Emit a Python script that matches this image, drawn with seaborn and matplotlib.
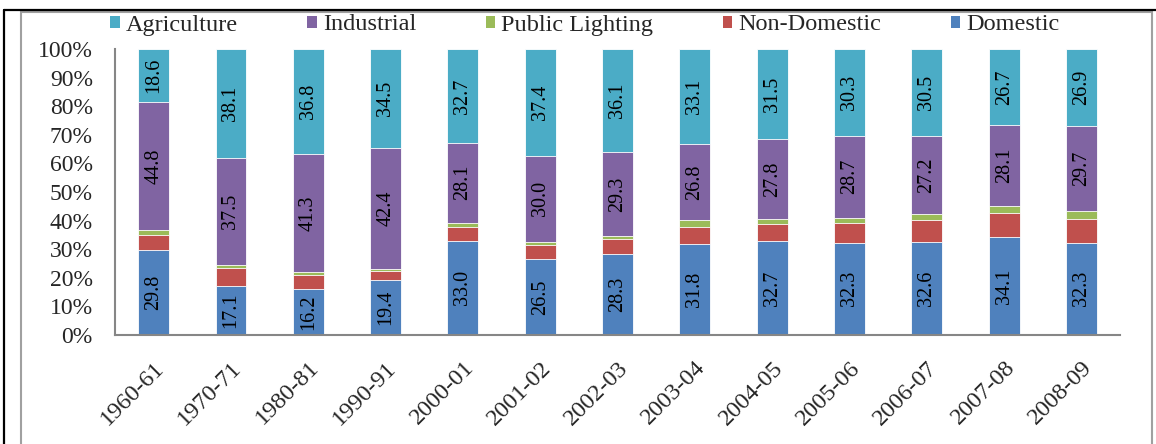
import numpy as np
import pandas as pd
import matplotlib
matplotlib.use("Agg")
import matplotlib.pyplot as plt
from matplotlib.patches import Rectangle, Patch
from matplotlib.lines import Line2D
import seaborn as sns

years = ["1960-61", "1970-71", "1980-81", "1990-91", "2000-01", "2001-02", "2002-03",
         "2003-04", "2004-05", "2005-06", "2006-07", "2007-08", "2008-09"]
domestic = [29.8, 17.1, 16.2, 19.4, 33.0, 26.5, 28.3, 31.8, 32.7, 32.3, 32.6, 34.1, 32.3]
non_domestic = [5.2, 6.5, 4.9, 3.1, 4.6, 5.1, 5.3, 5.8, 6.0, 6.7, 7.5, 8.5, 8.2]
public_lighting = [1.6, 0.8, 0.8, 0.6, 1.6, 1.0, 1.0, 2.5, 2.0, 2.0, 2.2, 2.6, 2.9]
industrial = [44.8, 37.5, 41.3, 42.4, 28.1, 30.0, 29.3, 26.8, 27.8, 28.7, 27.2, 28.1, 29.7]
agriculture = [18.6, 38.1, 36.8, 34.5, 32.7, 37.4, 36.1, 33.1, 31.5, 30.3, 30.5, 26.7, 26.9]

series = ["Domestic", "Non-Domestic", "Public Lighting", "Industrial", "Agriculture"]
colors = ["#4F81BD", "#C0504D", "#9BBB59", "#8064A2", "#4BACC6"]
labelled = ["Domestic", "Industrial", "Agriculture"]

df = pd.DataFrame({"Year": years, "Domestic": domestic, "Non-Domestic": non_domestic,
                   "Public Lighting": public_lighting, "Industrial": industrial,
                   "Agriculture": agriculture})
totals = df[series].sum(axis=1)
pct = df[series].div(totals, axis=0) * 100
cum = pct.cumsum(axis=1)
cum["Year"] = years

sns.set_style("white")
plt.rcParams["font.family"] = ["Liberation Serif", "DejaVu Serif"]

fig = plt.figure(figsize=(11.56, 4.44), dpi=100)
ax = fig.add_axes([0.0995, 0.2455, 0.8695, 0.644])

# stacked bars: draw the cumulative tops from the top layer down
for name, col in zip(series[::-1], colors[::-1]):
    sns.barplot(data=cum, x="Year", y=name, color=col, width=0.4,
                edgecolor="white", linewidth=0.6, saturation=1, ax=ax, zorder=2)

# value labels in the middle of the segments
for name in labelled:
    lower = cum[name] - pct[name]
    for i in range(len(years)):
        ax.text(i, lower[i] + pct[name][i] / 2, f"{df[name][i]:.1f}", rotation=90,
                ha="center", va="center", fontsize=14.5, color="black", zorder=3)

ax.set_ylim(0, 100)
ax.set_xlim(-0.5, len(years) - 0.5)
ax.set_yticks(np.arange(0, 101, 10))
ax.set_yticklabels([f"{v}%" for v in range(0, 101, 10)], fontsize=17)
ax.set_xticks(np.arange(len(years)))
ax.set_xticklabels(years, rotation=45, ha="right", rotation_mode="anchor", fontsize=17.5)
ax.tick_params(axis="x", length=0, pad=16)
ax.tick_params(axis="y", length=4, width=1.5, color="#868686", pad=12, direction="out")
# boundary ticks between categories
ax.set_xticks(np.arange(len(years) + 1) - 0.5, minor=True)
ax.tick_params(axis="x", which="minor", length=5, width=1.5, color="#868686", direction="out")
ax.set_xlabel("")
ax.set_ylabel("")
for side in ["top", "right"]:
    ax.spines[side].set_visible(False)
for side in ["left", "bottom"]:
    ax.spines[side].set_color("#868686")
    ax.spines[side].set_linewidth(1.5)

handles = [Patch(facecolor=c, edgecolor="none") for c in colors[::-1]]
fig.legend(handles, series[::-1], loc="center left", bbox_to_anchor=(110 / 1156, 1 - 25 / 444),
           ncol=5, frameon=False, fontsize=17.5, handlelength=0.4, handleheight=0.4,
           handletextpad=0.25, columnspacing=2.85, borderaxespad=0, borderpad=0)

# outer frame like the source document
fig.add_artist(Line2D([4 / 1156, 1.0], [1 - 10 / 444] * 2, color="black", lw=1.6,
                      transform=fig.transFigure))
fig.add_artist(Line2D([4 / 1156] * 2, [0, 1 - 10 / 444], color="black", lw=1.6,
                      transform=fig.transFigure))
fig.add_artist(Rectangle((21 / 1156, -0.01), 1131 / 1156, 1 - 12 / 444 + 0.01, fill=False,
                         edgecolor="#A0A0A0", lw=1.5, transform=fig.transFigure))

fig.savefig("out.png", dpi=100)
